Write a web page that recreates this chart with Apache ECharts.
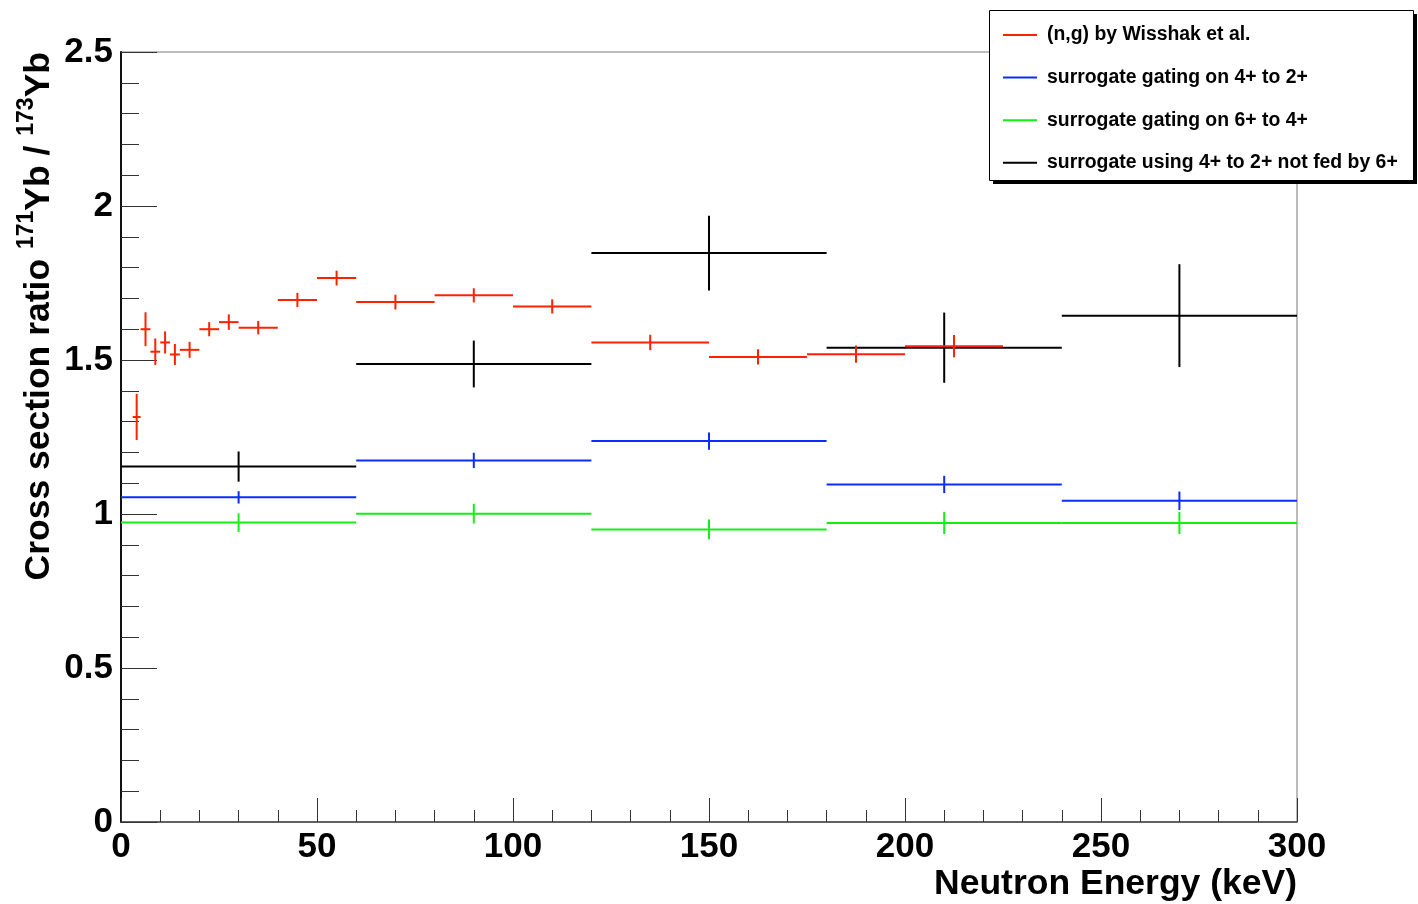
<!DOCTYPE html>
<html>
<head>
<meta charset="utf-8">
<title>Cross section ratio 171Yb / 173Yb</title>
<script src="https://cdn.jsdelivr.net/npm/echarts@6/dist/echarts.min.js"></script>
<style>
  html, body { margin: 0; padding: 0; background: #fff; }
  #chart { width: 1418px; height: 904px; }
</style>
</head>
<body>
<div id="chart"></div>
<script>
// (n,g) measurement: energy bins (keV), ratio and uncertainty
const ngBinLo = [3, 5, 7.5, 10, 12.5, 15, 20, 25, 30, 40, 50, 60, 80, 100, 120, 150, 175, 200];
const ngBinHi = [5, 7.5, 10, 12.5, 15, 20, 25, 30, 40, 50, 60, 80, 100, 120, 150, 175, 200, 225];
const ngValue = [1.315, 1.600, 1.527, 1.557, 1.518, 1.533, 1.600, 1.623, 1.605, 1.695, 1.766, 1.688, 1.710, 1.674, 1.557, 1.510, 1.519, 1.545];
const ngError = [0.075, 0.055, 0.043, 0.036, 0.034, 0.026, 0.023, 0.025, 0.022, 0.023, 0.024, 0.024, 0.023, 0.023, 0.025, 0.025, 0.028, 0.036];

// surrogate results share the same 60 keV bins
const surBinLo = [0, 60, 120, 180, 240];
const surBinHi = [60, 120, 180, 240, 300];
const gate42Value = [1.054, 1.174, 1.237, 1.096, 1.043];
const gate42Error = [0.020, 0.025, 0.028, 0.028, 0.030];
const gate64Value = [0.972, 1.001, 0.950, 0.971, 0.971];
const gate64Error = [0.030, 0.032, 0.032, 0.036, 0.036];
const notFedValue = [1.154, 1.487, 1.847, 1.540, 1.644];
const notFedError = [0.049, 0.076, 0.121, 0.114, 0.167];

const seriesNames = [
  '(n,g) by Wisshak et al.',
  'surrogate gating on 4+ to 2+',
  'surrogate gating on 6+ to 4+',
  'surrogate using 4+ to 2+ not fed by 6+'
];
const xTicks = { min: 0, max: 300, interval: 50 };
const yTicks = { min: 0, max: 2.5, interval: 0.5 };

const FONT = "'Liberation Sans', Arial, Helvetica, sans-serif";

function rows(lo, hi, val, err) {
  return lo.map((l, i) => [l, hi[i], val[i], err[i]]);
}

// horizontal bar spans the bin, vertical bar spans value ± error at bin centre
function renderErrorCross(params, api) {
  const lo = api.value(0), hi = api.value(1), v = api.value(2), e = api.value(3);
  const xc = (lo + hi) / 2;
  const a = api.coord([lo, v]), b = api.coord([hi, v]);
  const t = api.coord([xc, v + e]), u = api.coord([xc, v - e]);
  const style = { stroke: api.visual('color'), lineWidth: 2 };
  return {
    type: 'group',
    children: [
      { type: 'line', shape: { x1: a[0], y1: a[1], x2: b[0], y2: b[1] }, style: style },
      { type: 'line', shape: { x1: t[0], y1: t[1], x2: u[0], y2: u[1] }, style: style }
    ]
  };
}

function errSeries(name, color, data, z) {
  return {
    name: name,
    type: 'custom',
    renderItem: renderErrorCross,
    itemStyle: { color: color },
    encode: { x: [0, 1], y: 2 },
    data: data,
    z: z,
    clip: true
  };
}

const chart = echarts.init(document.getElementById('chart'), null, { renderer: 'canvas' });

chart.setOption({
  animation: false,
  backgroundColor: '#fff',
  textStyle: { fontFamily: FONT },
  grid: {
    left: 121, right: 121, top: 52, bottom: 82,
    show: true, borderColor: '#777', borderWidth: 1, backgroundColor: 'transparent'
  },
  legend: {
    orient: 'vertical',
    left: 1003, top: 25,
    padding: 0,
    itemGap: 22.6,
    itemWidth: 34, itemHeight: 2,
    icon: 'rect',
    z: 60,
    textStyle: { fontFamily: FONT, fontWeight: 'bold', fontSize: 19.4, color: '#000', lineHeight: 20, padding: [0, 0, 0, 5] },
    data: seriesNames
  },
  xAxis: {
    type: 'value',
    min: xTicks.min, max: xTicks.max, interval: xTicks.interval,
    name: 'Neutron Energy (keV)',
    nameLocation: 'end',
    nameGap: 0,
    nameTextStyle: {
      fontFamily: FONT, fontWeight: 'bold', fontSize: 35.5, color: '#000',
      align: 'right', verticalAlign: 'top', padding: [44, 0, 0, 0]
    },
    axisLine: { show: true, onZero: false, lineStyle: { color: '#444', width: 1.5 } },
    axisTick: { show: true, inside: true, length: 24, lineStyle: { color: '#333', width: 1 } },
    minorTick: { show: true, splitNumber: 5, length: 12, lineStyle: { color: '#333', width: 1 } },
    splitLine: { show: false },
    axisLabel: { fontFamily: FONT, fontWeight: 'bold', fontSize: 35, color: '#000', margin: 8, showMinLabel: true, showMaxLabel: true }
  },
  yAxis: {
    type: 'value',
    min: yTicks.min, max: yTicks.max, interval: yTicks.interval,
    axisLine: { show: true, onZero: false, lineStyle: { color: '#111', width: 2 } },
    axisTick: { show: true, inside: true, length: 36, lineStyle: { color: '#333', width: 1 } },
    minorTick: { show: true, splitNumber: 5, length: 18, lineStyle: { color: '#333', width: 1 } },
    splitLine: { show: false },
    axisLabel: {
      fontFamily: FONT, fontWeight: 'bold', fontSize: 35, color: '#000', margin: 8,
      showMinLabel: true, showMaxLabel: true,
      formatter: v => String(v)
    }
  },
  graphic: [
    // legend frame with drop shadow
    {
      type: 'rect', z: 50,
      shape: { x: 993, y: 14, width: 424, height: 170 },
      style: { fill: '#000' }
    },
    {
      type: 'rect', z: 51,
      shape: { x: 989.5, y: 10.5, width: 424, height: 170 },
      style: { fill: '#fff', stroke: '#000', lineWidth: 1 }
    },
    {
      type: 'text',
      x: 36, y: 52,
      rotation: Math.PI / 2,
      style: {
        text: '{t|Cross section ratio }{s|171}{t|Yb / }{s|173}{t|Yb}',
        align: 'right',
        verticalAlign: 'middle',
        fill: '#000',
        rich: {
          t: { fontFamily: FONT, fontWeight: 'bold', fontSize: 35.5, fill: '#000', lineHeight: 42, verticalAlign: 'bottom' },
          s: { fontFamily: FONT, fontWeight: 'bold', fontSize: 23, fill: '#000', lineHeight: 42, verticalAlign: 'top' }
        }
      }
    }
  ],
  series: [
    errSeries(seriesNames[1], '#0a2cff', rows(surBinLo, surBinHi, gate42Value, gate42Error), 2),
    errSeries(seriesNames[2], '#14ee14', rows(surBinLo, surBinHi, gate64Value, gate64Error), 2),
    errSeries(seriesNames[3], '#000000', rows(surBinLo, surBinHi, notFedValue, notFedError), 3),
    errSeries(seriesNames[0], '#ff2200', rows(ngBinLo, ngBinHi, ngValue, ngError), 4)
  ]
});
</script>
</body>
</html>
